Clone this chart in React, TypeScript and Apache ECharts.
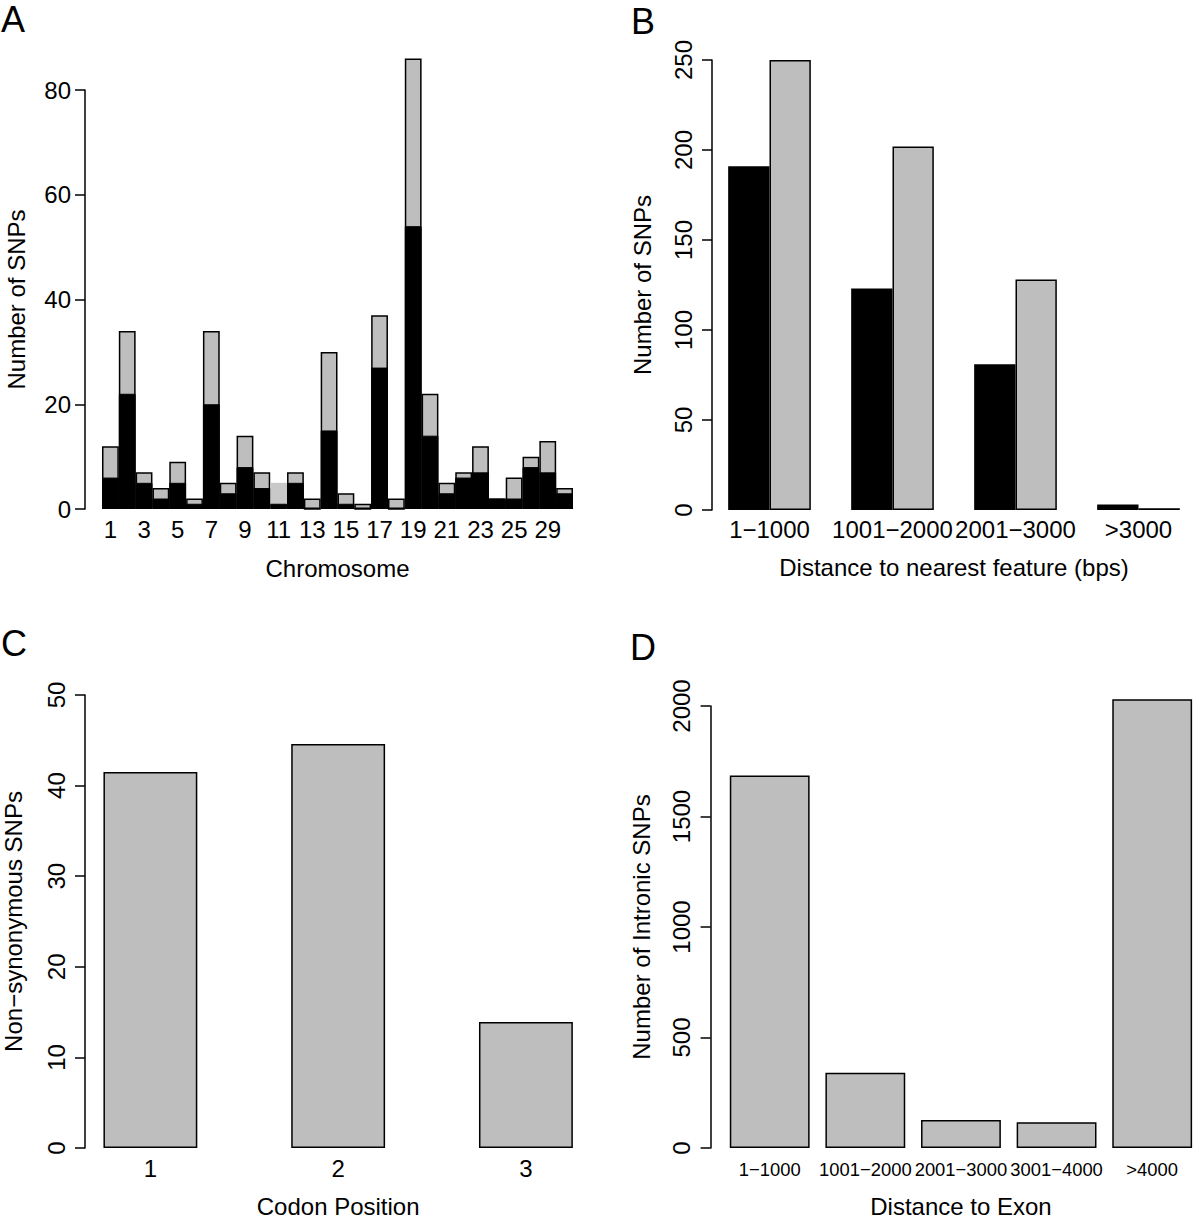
import React, { useEffect, useRef } from "react";
import * as echarts from "echarts";

// Panel A: SNPs per chromosome (total = gray, subset = black)
const chromosomes = [
  "1", "2", "3", "4", "5", "6", "7", "8", "9", "10", "11", "12", "13", "14",
  "15", "16", "17", "18", "19", "20", "21", "22", "23", "24", "25", "26", "29", "X",
];
const chromTotal = [12, 34, 7, 4, 9, 2, 34, 5, 14, 7, 5, 7, 2, 30, 3, 1, 37, 2, 86, 22, 5, 7, 12, 2, 6, 10, 13, 4];
const chromBlack = [6, 22, 5, 2, 5, 1, 20, 3, 8, 4, 1, 5, 0, 15, 1, 0, 27, 0, 54, 14, 3, 6, 7, 2, 2, 8, 7, 3];

// Panel B: distance to nearest feature
const featureBins = ["1\u22121000", "1001\u22122000", "2001\u22123000", ">3000"];
const featureBlack = [191, 123, 81, 3];
const featureGray = [250, 202, 128, 1];

// Panel C: codon position
const codonPositions = ["1", "2", "3"];
const codonValues = [41.5, 44.6, 13.9];

// Panel D: distance to exon
const exonBins = ["1\u22121000", "1001\u22122000", "2001\u22123000", "3001\u22124000", ">4000"];
const exonValues = [1686, 341, 127, 116, 2030];

const FONT = "'Liberation Sans', Arial, Helvetica, sans-serif";
const GRAY = "#bebebe";

export default function App() {
  const ref = useRef<HTMLDivElement>(null);

  useEffect(() => {
    if (!ref.current) return;
    const chart = echarts.init(ref.current, undefined, { renderer: "svg" });

    const axisLine = { show: true, lineStyle: { color: "#000", width: 1.5 } };
    const axisTick = { show: true, length: 10, lineStyle: { color: "#000", width: 1.5 } };
    const txt = { color: "#000", fontFamily: FONT, fontSize: 24 };

    const yAxisBase = (gridIndex: number, max: number, interval: number, offset: number, name: string, rotate: number, margin: number, nameGap: number) => ({
      type: "value",
      gridIndex,
      min: 0,
      max,
      interval,
      offset,
      name,
      nameLocation: "middle",
      nameGap,
      nameTextStyle: { ...txt },
      axisLine,
      axisTick,
      splitLine: { show: false },
      axisLabel: { ...txt, rotate, margin, formatter: (v: number) => String(v) },
    });

    const xAxisBase = (gridIndex: number, data: string[], name: string, fontSize: number, margin: number, nameGap: number, interval: number = 0) => ({
      type: "category",
      gridIndex,
      data,
      name,
      nameLocation: "middle",
      nameGap,
      nameTextStyle: { ...txt },
      axisLine: { show: false },
      axisTick: { show: false },
      splitLine: { show: false },
      axisLabel: { ...txt, fontSize, margin, interval },
    });

    const letter = (text: string, left: number, top: number) => ({
      text,
      left,
      top,
      padding: 0,
      textStyle: { ...txt, fontSize: 36, fontWeight: "normal" },
    });

    const option: any = {
      animation: false,
      backgroundColor: "#fff",
      title: [
        letter("A", 1, 1),
        letter("B", 631, 3),
        letter("C", 1, 625),
        letter("D", 630, 629),
      ],
      grid: [
        { left: 102, top: 90, width: 471, height: 419 },
        { left: 708, top: 60, width: 512, height: 450 },
        { left: 56.5, top: 695, width: 563.3, height: 453 },
        { left: 721.9, top: 706, width: 485, height: 442 },
      ],
      xAxis: [
        xAxisBase(0, chromosomes, "Chromosome", 24, 8, 47, 1),
        xAxisBase(1, featureBins, "Distance to nearest feature (bps)", 24, 7, 45),
        xAxisBase(2, codonPositions, "Codon Position", 24, 8, 46),
        xAxisBase(3, exonBins, "Distance to Exon", 18.4, 12, 46),
      ],
      yAxis: [
        yAxisBase(0, 80, 20, 17, "Number of SNPs", 0, 14, 57),
        yAxisBase(1, 250, 50, -4, "Number of SNPs", 90, 17, 58),
        yAxisBase(2, 50, 10, -28.5, "Non\u2212synonymous SNPs", 90, 17, 60),
        yAxisBase(3, 2000, 500, 11.3, "Number of Intronic SNPs", 90, 17, 57),
      ],
      series: [
        {
          type: "bar",
          xAxisIndex: 0,
          yAxisIndex: 0,
          clip: false,
          barCategoryGap: "0%",
          barGap: "-100%",
          data: chromTotal.map((v, i) =>
            i === 10
              ? { value: v, itemStyle: { color: "#c9c9c9", borderWidth: 0 } }
              : v
          ),
          itemStyle: { color: GRAY, borderColor: "#000", borderWidth: 1.5 },
        },
        {
          type: "bar",
          xAxisIndex: 0,
          yAxisIndex: 0,
          clip: false,
          barCategoryGap: "0%",
          barGap: "-100%",
          data: chromBlack,
          itemStyle: { color: "#000", borderColor: "#000", borderWidth: 1 },
        },
        {
          type: "bar",
          xAxisIndex: 1,
          yAxisIndex: 1,
          barGap: "0%",
          barCategoryGap: "32.8%",
          data: featureBlack,
          itemStyle: { color: "#000", borderColor: "#000", borderWidth: 1.5 },
        },
        {
          type: "bar",
          xAxisIndex: 1,
          yAxisIndex: 1,
          barGap: "0%",
          barCategoryGap: "32.8%",
          data: featureGray,
          itemStyle: { color: GRAY, borderColor: "#000", borderWidth: 1.5 },
        },
        {
          type: "bar",
          xAxisIndex: 2,
          yAxisIndex: 2,
          barCategoryGap: "50%",
          data: codonValues,
          itemStyle: { color: GRAY, borderColor: "#000", borderWidth: 1.5 },
        },
        {
          type: "bar",
          xAxisIndex: 3,
          yAxisIndex: 3,
          clip: false,
          barCategoryGap: "16.5%",
          data: exonValues,
          itemStyle: { color: GRAY, borderColor: "#000", borderWidth: 1.5 },
        },
      ],
    };

    chart.setOption(option);
    return () => chart.dispose();
  }, []);

  return (
    <div
      ref={ref}
      style={{ position: "absolute", left: 0, top: 0, width: 1200, height: 1219, background: "#fff" }}
    />
  );
}
